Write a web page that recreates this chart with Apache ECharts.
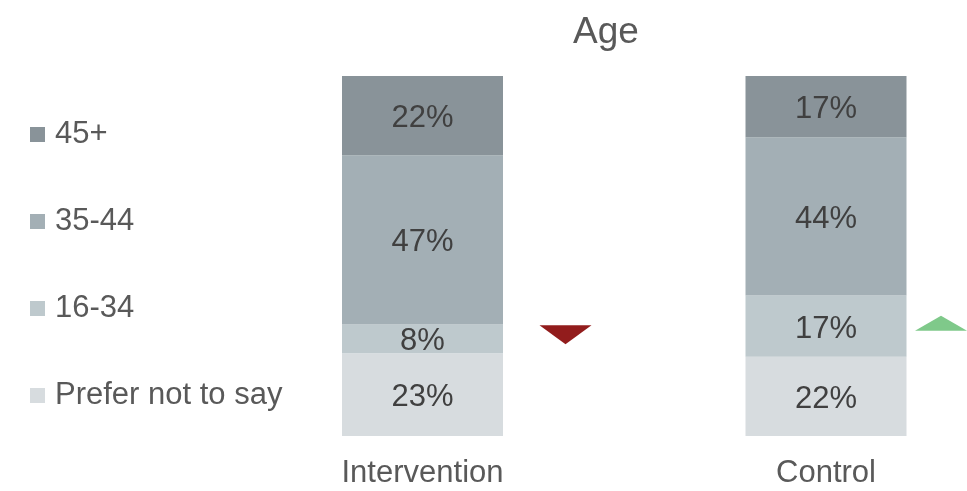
<!DOCTYPE html>
<html>
<head>
<meta charset="utf-8">
<title>Age</title>
<script src="https://cdn.jsdelivr.net/npm/echarts@6/dist/echarts.min.js"></script>
<style>
  html, body { margin: 0; padding: 0; background: #fff; }
  #chart { width: 967px; height: 491px; }
</style>
</head>
<body>
<div id="chart"></div>
<script>
// Age distribution by group (percent of respondents)
const categories = ['Intervention', 'Control'];
const preferNot = [23, 22];
const age16to34 = [8, 17];
const age35to44 = [47, 44];
const age45plus = [22, 17];

// Significance markers beside the 16-34 segment
const markerDirection = ['down', 'up'];

const FONT = '"Liberation Sans", Arial, sans-serif';
const colors = {
  prefer: '#d7dcdf',
  a1634: '#bec9cd',
  a3544: '#a3afb5',
  a45: '#899399'
};

const chart = echarts.init(document.getElementById('chart'), null, { renderer: 'canvas' });

function barSeries(name, data, color) {
  return {
    name: name,
    type: 'bar',
    stack: 'age',
    data: data,
    barWidth: 161,
    itemStyle: { color: color },
    label: {
      show: true,
      position: 'inside',
      offset: [0, 3],
      formatter: '{c}%',
      fontFamily: FONT,
      fontSize: 31,
      color: '#404040'
    },
    emphasis: { disabled: true }
  };
}

// marker sits at the middle of the 16-34 segment
const markerData = categories.map((c, i) => {
  const y = preferNot[i] + age16to34[i] / 2;
  const down = markerDirection[i] === 'down';
  return {
    value: [c, y],
    symbol: down ? 'path://M0,0L52,0L26,19Z' : 'path://M26,0L52,15L0,15Z',
    symbolSize: down ? [52, 19] : [52, 15],
    symbolOffset: down ? [143, -4] : [115, -3],
    itemStyle: { color: down ? '#921c1c' : '#7fc98a', opacity: 1 }
  };
});

const option = {
  backgroundColor: '#ffffff',
  animation: false,
  title: {
    text: 'Age',
    left: 601,
    top: 9,
    textAlign: 'center',
    textStyle: { fontFamily: FONT, fontSize: 37, fontWeight: 'normal', color: '#595959' }
  },
  legend: {
    orient: 'vertical',
    left: 25,
    top: 114,
    itemWidth: 15,
    itemHeight: 15,
    itemGap: 56,
    icon: 'rect',
    data: ['45+', '35-44', '16-34', 'Prefer not to say'],
    textStyle: { fontFamily: FONT, fontSize: 31, lineHeight: 31, color: '#595959', padding: [0, 0, 0, 5] }
  },
  // category centres sit on the grid edges (boundaryGap false)
  grid: { left: 422.5, top: 76, width: 403.5, height: 360 },
  xAxis: {
    type: 'category',
    data: categories,
    boundaryGap: false,
    axisLine: { show: false },
    axisTick: { show: false },
    splitLine: { show: false },
    axisLabel: { fontFamily: FONT, fontSize: 31, color: '#595959', margin: 22 }
  },
  yAxis: {
    type: 'value',
    min: 0,
    max: 100,
    show: false,
    splitLine: { show: false }
  },
  series: [
    barSeries('Prefer not to say', preferNot, colors.prefer),
    barSeries('16-34', age16to34, colors.a1634),
    barSeries('35-44', age35to44, colors.a3544),
    barSeries('45+', age45plus, colors.a45),
    {
      type: 'scatter',
      data: markerData,
      silent: true,
      z: 5
    }
  ]
};

chart.setOption(option);
</script>
</body>
</html>
